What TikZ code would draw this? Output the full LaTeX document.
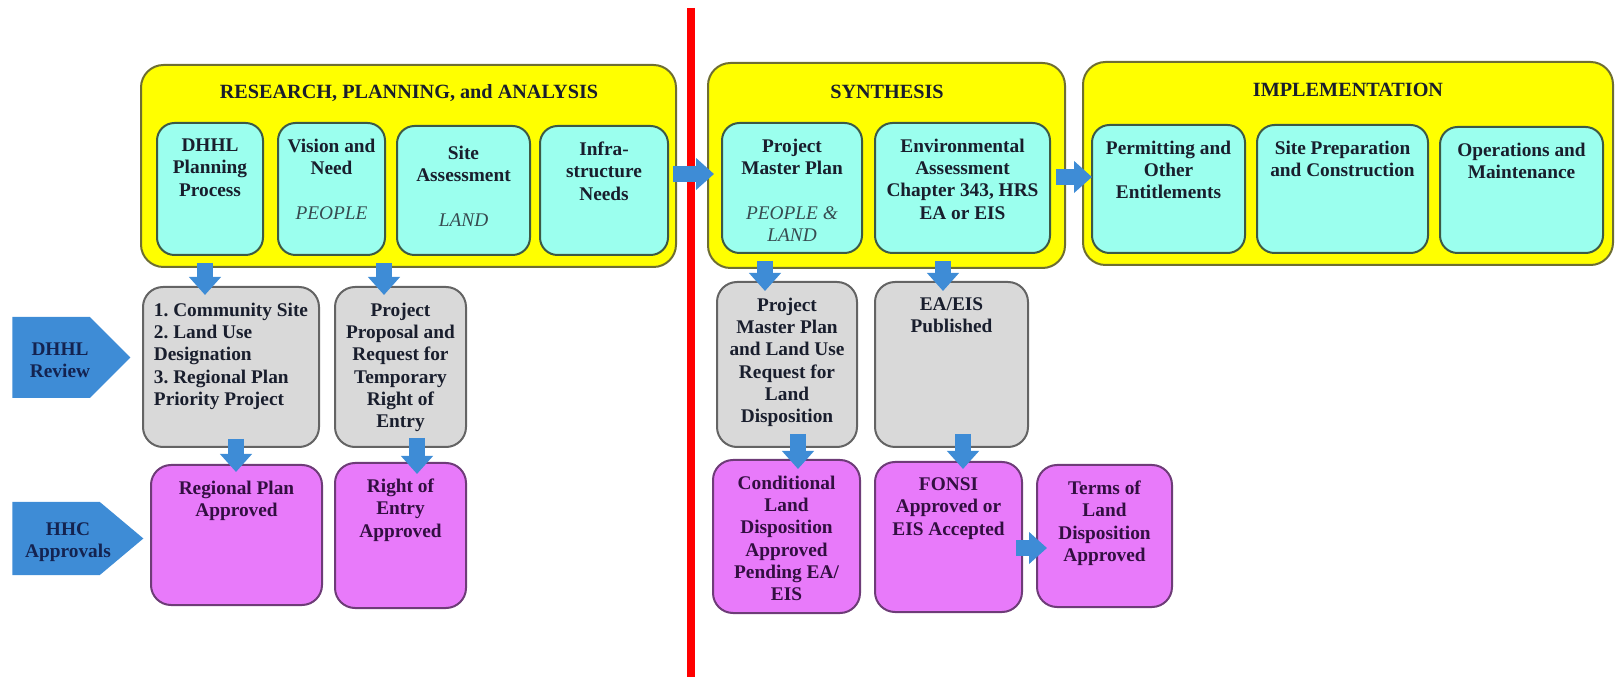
\documentclass[tikz,border=0pt]{standalone}
\usepackage{fontspec}
\setmainfont{Liberation Serif}
\usetikzlibrary{arrows.meta,shapes.symbols,fit,calc}

\definecolor{phaseyellow}{RGB}{255,255,0}
\definecolor{phaseedge}{RGB}{110,110,50}
\definecolor{taskcyan}{RGB}{155,255,238}
\definecolor{taskedge}{RGB}{60,90,70}
\definecolor{reviewgray}{RGB}{217,217,217}
\definecolor{reviewedge}{RGB}{100,100,100}
\definecolor{approvepink}{RGB}{232,122,250}
\definecolor{approveedge}{RGB}{110,60,120}
\definecolor{flowblue}{RGB}{62,140,214}
\definecolor{inkdark}{RGB}{25,30,45}
\definecolor{inkpurple}{RGB}{50,15,65}
\definecolor{inknavy}{RGB}{20,35,80}
\definecolor{inkitalic}{RGB}{55,75,80}

\newcommand{\soft}[1]{{\mdseries\itshape\color{inkitalic}#1}}

\begin{document}
\begin{tikzpicture}[x=0.2mm, y=-0.2mm,
    basebox/.style={line width=0.4mm, inner sep=0pt, rounded corners=3.5mm},
    phasebox/.style={basebox, draw=phaseedge, fill=phaseyellow, rounded corners=4.5mm},
    taskbox/.style={basebox, draw=taskedge, fill=taskcyan},
    reviewbox/.style={basebox, draw=reviewedge, fill=reviewgray, rounded corners=4mm},
    approvebox/.style={basebox, draw=approveedge, fill=approvepink, rounded corners=4mm},
    txt/.style={anchor=north, yshift=-3.3mm, inner sep=0pt, align=center,
        font=\fontsize{11}{12.7}\selectfont\bfseries\frenchspacing, text=inkdark},
    ptxt/.style={txt, text=inkpurple},
    phasetitle/.style={inner sep=0pt, font=\fontsize{11.5}{13}\selectfont\bfseries, text=inkdark},
    sidetag/.style={signal, signal to=east, fill=flowblue, inner sep=0pt, anchor=west},
    tagtxt/.style={anchor=center, inner sep=0pt, align=center,
        font=\fontsize{11}{12.7}\selectfont\bfseries, text=inknavy},
    blockarrow/.style={draw=flowblue, line width=3.2mm, -{Triangle[width=6.2mm, length=3.6mm]}}]

    \useasboundingbox (0,0) rectangle (1616,677);

    % === phases ===
    \node[phasebox, fit={(141,65) (676,267)}] (res) {};
    \node[phasebox, fit={(708,63) (1065,268)}] (syn) {};
    \node[phasebox, fit={(1083,62) (1613,265)}] (imp) {};
    \node[phasetitle] (restitle) at (409,93) {RESEARCH, PLANNING, and ANALYSIS};
    \node[phasetitle] (syntitle) at (887,92) {SYNTHESIS};
    \node[phasetitle] (imptitle) at (1348,90) {IMPLEMENTATION};

    % divider
    \draw[red, line width=1.7mm] (691,8) -- (691,677);

    % === research tasks ===
    \node[taskbox, fit={(157,123) (263,255)}, label={[txt]north:{DHHL\\Planning\\Process}}] (dhhl) {};
    \node[taskbox, fit={(278,123) (385,255)}, label={[txt]north:{Vision and\\Need\\[12.7pt]\soft{PEOPLE}}}] (vision) {};
    \node[taskbox, fit={(397,126) (530,255)}, label={[txt, yshift=-0.8mm]north:{Site\\Assessment\\[12.7pt]\soft{LAND}}}] (site) {};
    \node[taskbox, fit={(540,126) (668,255)}, label={[txt]north:{Infra-\\structure\\Needs}}] (infra) {};

    % === synthesis tasks ===
    \node[taskbox, fit={(722,123) (862,253)}, label={[txt]north:{Project\\Master Plan\\[12.7pt]\soft{PEOPLE \&}\\\soft{LAND}}}] (pmp) {};
    \node[taskbox, fit={(875,123) (1050,253)}, label={[txt]north:{Environmental\\Assessment\\Chapter 343, HRS\\EA or EIS}}] (env) {};

    % === implementation tasks ===
    \node[taskbox, fit={(1092,125) (1245,253)}, label={[txt]north:{Permitting and\\Other\\Entitlements}}] (permit) {};
    \node[taskbox, fit={(1257,125) (1428,253)}, label={[txt]north:{Site Preparation\\and Construction}}] (prep) {};
    \node[taskbox, fit={(1440,127) (1603,253)}, label={[txt]north:{Operations and\\Maintenance}}] (ops) {};

    % === DHHL review ===
    \node[reviewbox, fit={(143,287) (319,447)}, label={[txt, align=left]north:{1. Community Site\\2. Land Use\\Designation\\3. Regional Plan\\Priority Project}}] (comm) {};
    \node[reviewbox, fit={(335,287) (466,447)}, label={[txt]north:{Project\\Proposal and\\Request for\\Temporary\\Right of\\Entry}}] (prop) {};
    \node[reviewbox, fit={(717,282) (857,447)}, label={[txt]north:{Project\\Master Plan\\and Land Use\\Request for\\Land\\Disposition}}] (pmpreq) {};
    \node[reviewbox, fit={(875,282) (1028,447)}, label={[txt]north:{EA/EIS\\Published}}] (eapub) {};

    % === HHC approvals ===
    \node[approvebox, fit={(151,465) (322,605)}, label={[ptxt]north:{Regional Plan\\Approved}}] (regap) {};
    \node[approvebox, fit={(335,463) (466,608)}, label={[ptxt]north:{Right of\\Entry\\Approved}}] (roeap) {};
    \node[approvebox, fit={(713,460) (860,613)}, label={[ptxt]north:{Conditional\\Land\\Disposition\\Approved\\Pending EA/\\EIS}}] (cond) {};
    \node[approvebox, fit={(875,462) (1022,612)}, label={[ptxt]north:{FONSI\\Approved or\\EIS Accepted}}] (fonsi) {};
    \node[approvebox, fit={(1037,465) (1172,607)}, label={[ptxt]north:{Terms of\\Land\\Disposition\\Approved}}] (terms) {};

    % === row tags ===
    \node[sidetag, signal pointer angle=90, minimum width=23.6mm, minimum height=16.2mm,
        label={[tagtxt, xshift=9.6mm, yshift=-0.5mm]west:{DHHL\\Review}}] (revtag) at (12,357.5) {};
    \node[sidetag, signal pointer angle=80, minimum width=26.2mm, minimum height=14.6mm,
        label={[tagtxt, xshift=11.2mm, yshift=-0.7mm]west:{HHC\\Approvals}}] (hhctag) at (12,538.5) {};

    % === flow arrows ===
    \draw[blockarrow] ($(res.east)+(-4,8)$) -- ($(syn.west)+(7,8.5)$);
    \draw[blockarrow] ($(syn.east)+(-10,11.5)$) -- ($(imp.west)+(10,13.5)$);
    \draw[blockarrow] ($(dhhl.south)+(-5,7)$) -- ($(comm.north -| dhhl.south)+(-5,9)$);
    \draw[blockarrow] ($(vision.south east)+(-2,7)$) -- ($(prop.north -| vision.south east)+(-2,9)$);
    \draw[blockarrow] ($(comm.south)+(5,-9)$) -- ($(regap.north -| comm.south)+(5,8)$);
    \draw[blockarrow] ($(prop.south)+(16.5,-10)$) -- ($(roeap.north -| prop.south)+(16.5,12)$);
    \draw[blockarrow] ($(pmp.south)+(-27,7)$) -- ($(pmpreq.north -| pmp.south)+(-27,10)$);
    \draw[blockarrow] ($(env.south)+(-19.5,7)$) -- ($(eapub.north -| env.south)+(-19.5,10)$);
    \draw[blockarrow] ($(pmpreq.south)+(11,-14)$) -- ($(cond.north -| pmpreq.south)+(11,10)$);
    \draw[blockarrow] ($(eapub.south)+(11.5,-14)$) -- ($(fonsi.north -| eapub.south)+(11.5,8)$);
    \draw[blockarrow] ($(fonsi.east)+(-7,11)$) -- ($(terms.west |- fonsi.east)+(11,11)$);

\end{tikzpicture}
\end{document}
